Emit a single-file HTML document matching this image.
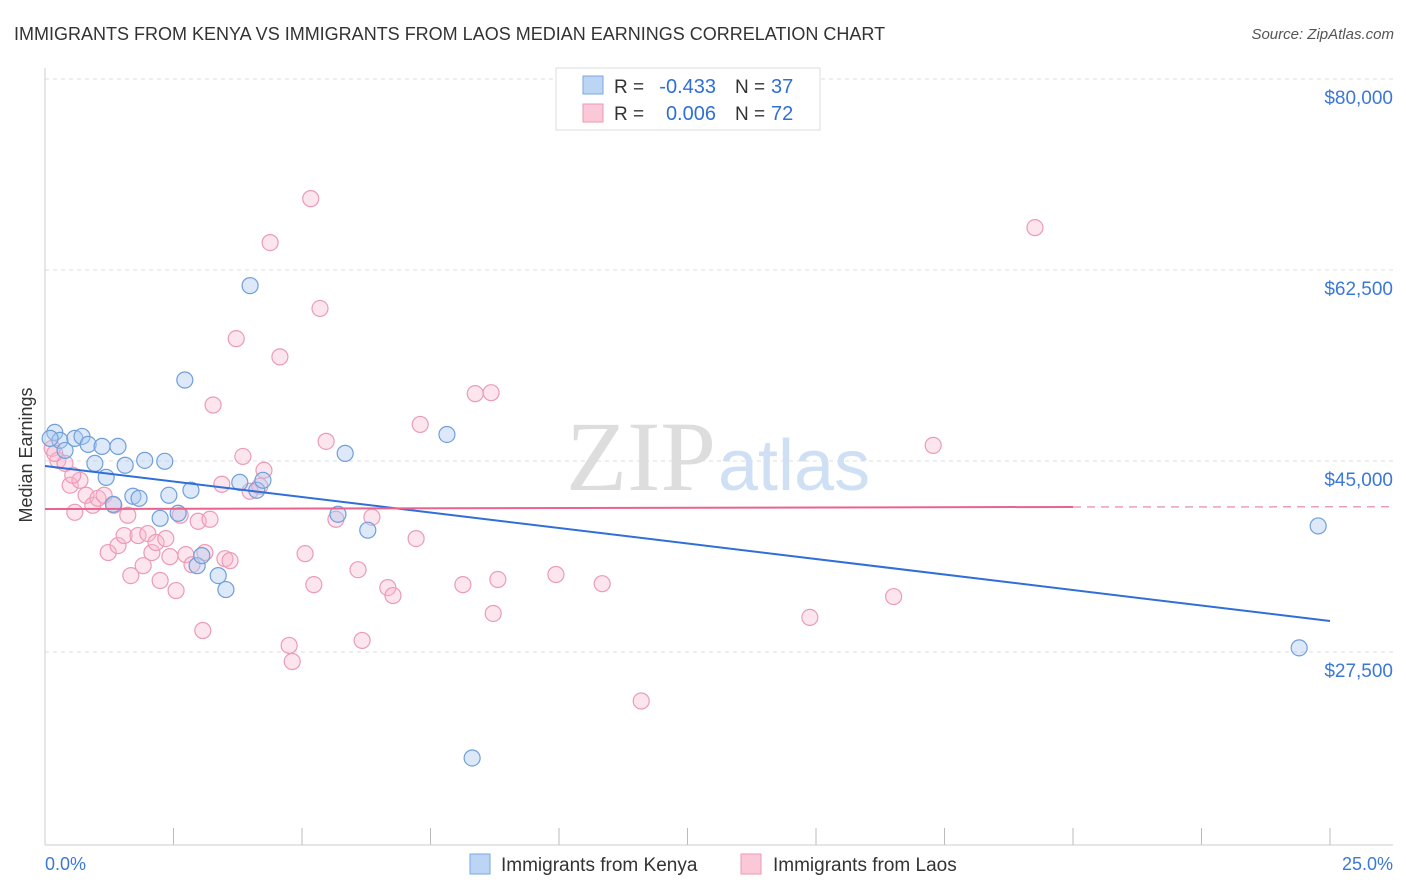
<!DOCTYPE html>
<html><head><meta charset="utf-8"><style>
body{margin:0;background:#fff;font-family:"Liberation Sans",sans-serif;}
</style></head><body>
<svg width="1406" height="892" xmlns="http://www.w3.org/2000/svg" style="display:block">
<text x="14" y="40" font-size="18" fill="#333">IMMIGRANTS FROM KENYA VS IMMIGRANTS FROM LAOS MEDIAN EARNINGS CORRELATION CHART</text>
<text x="1394" y="39" font-size="15" fill="#555" font-style="italic" text-anchor="end">Source: ZipAtlas.com</text>
<g id="grid"></g>
<line x1="45" y1="68" x2="45" y2="845" stroke="#ccc"/>
<line x1="45" y1="845" x2="1393" y2="845" stroke="#ccc"/>
<text x="32" y="455" font-size="18" fill="#333" text-anchor="middle" transform="rotate(-90 32 455)">Median Earnings</text>
<text x="716" y="490" font-size="100" fill="#ddd" text-anchor="end" font-family="Liberation Serif">ZIP</text>
<text x="718" y="490" font-size="72" fill="#cfe0f4">atlas</text>
<g id="marks"></g>
<g>
<rect x="556" y="68" width="264" height="62" fill="#fff" stroke="#ddd"/>
<rect x="583" y="76" width="20" height="18" fill="#bcd5f5" stroke="#7aa7e0"/>
<rect x="583" y="104" width="20" height="18" fill="#fbc8d8" stroke="#eb97b3"/>
<text x="614" y="93" font-size="19" fill="#333">R =</text>
<text x="716" y="93" font-size="20" fill="#2f6fd6" text-anchor="end">-0.433</text>
<text x="735" y="93" font-size="19" fill="#333">N =</text>
<text x="771" y="93" font-size="20" fill="#2f6fd6">37</text>
<text x="614" y="120" font-size="19" fill="#333">R =</text>
<text x="716" y="120" font-size="20" fill="#2f6fd6" text-anchor="end">0.006</text>
<text x="735" y="120" font-size="19" fill="#333">N =</text>
<text x="771" y="120" font-size="20" fill="#2f6fd6">72</text>
</g>
<text x="45" y="870" font-size="18" fill="#3b78d8">0.0%</text>
<text x="1393" y="870" font-size="18" fill="#3b78d8" text-anchor="end">25.0%</text>
<g>
<rect x="470" y="854" width="20" height="20" fill="#bcd5f5" stroke="#7aa7e0"/>
<text x="501" y="871" font-size="19" fill="#333">Immigrants from Kenya</text>
<rect x="741" y="854" width="20" height="20" fill="#fbc8d8" stroke="#eb97b3"/>
<text x="773" y="871" font-size="19" fill="#333">Immigrants from Laos</text>
</g>
</svg>
<script>
const yTicks=[80000,62500,45000,27500];
const yTickLabels=["$80,000","$62,500","$45,000","$27,500"];
const xTicks=[0,2.5,5,7.5,10,12.5,15,17.5,20,22.5,25];
const kenyaX=[0.19,0.29,0.39,0.58,0.72,0.84,0.97,1.11,1.19,1.33,1.42,1.56,1.71,1.83,1.94,2.24,2.33,2.41,2.59,2.72,2.84,2.96,3.05,3.37,3.52,3.79,3.99,4.12,4.24,5.70,5.84,6.28,7.82,8.31,24.40,24.77,0.10];
const kenyaY=[47620,46890,45970,47070,47250,46520,44780,46340,43500,41030,46340,44610,41770,41580,45060,39750,44970,41860,40210,52420,42320,35410,36330,34500,33220,43040,61070,42320,43230,40120,45700,38660,47430,17790,27880,39050,47070];
const laosX=[0.14,0.25,0.39,0.49,0.58,0.68,0.80,0.93,1.03,1.15,1.23,1.34,1.42,1.54,1.61,1.67,1.81,1.91,2.00,2.08,2.16,2.24,2.35,2.43,2.55,2.63,2.74,2.86,2.98,3.07,3.11,3.21,3.27,3.44,3.50,3.60,3.72,3.85,3.99,4.18,4.26,4.38,4.57,4.75,4.81,5.06,5.17,5.23,5.35,5.47,5.66,6.09,6.17,6.36,6.67,6.77,7.22,7.30,8.13,8.37,8.68,8.72,8.81,9.94,10.84,11.60,14.88,16.51,17.28,19.26,0.54,0.19];
const laosY=[46160,45060,44780,42780,40300,43230,41860,40940,41580,41860,36610,40940,37250,38170,40030,34500,38170,35410,38350,36610,37530,34050,37890,36240,33130,40030,36420,35500,39480,29470,36610,39660,50130,42870,36050,35870,56210,45420,42230,42690,44150,65010,54540,28100,26630,36510,69040,33670,58980,46800,39660,35040,28560,39850,33400,32670,37890,48350,33670,51170,51260,31030,34140,34600,33760,23010,30670,32580,46430,66380,43690,45700];
const trendX=[0,25], kenyaTrend=[44540,30340];
const laosTrendX=[0,20,25], laosTrend=[40600,40790,40810];
const NS="http://www.w3.org/2000/svg";
const xs=p=>45+p/25*1285, ys=v=>79+(80000-v)/17500*191;
const grid=document.getElementById('grid'), marks=document.getElementById('marks');
function mk(tag,attrs,parent){const e=document.createElementNS(NS,tag);for(const k in attrs)e.setAttribute(k,attrs[k]);parent.appendChild(e);return e;}
yTicks.forEach((v,i)=>{
 const l=mk('line',{x1:45,x2:1393,y1:ys(v),y2:ys(v),stroke:'#ddd','stroke-dasharray':'4,4'},grid);
 
 
 const t=mk('text',{x:1393,y:ys(v)+25,'font-size':19,fill:'#3b78d8','text-anchor':'end'},grid);
 t.textContent=yTickLabels[i];
 
 
});
xTicks.forEach(p=>{
 const l=mk('line',{x1:xs(p),x2:xs(p),y1:828,y2:845,stroke:'#bbb'},grid);
 
 
});
laosX.forEach((x,i)=>{
 const c=mk('circle',{cx:xs(x),cy:ys(laosY[i]),r:8,fill:'rgba(248,180,204,0.35)',stroke:'#eb9bb7','stroke-width':1.2},marks);
 
 
});
kenyaX.forEach((x,i)=>{
 const c=mk('circle',{cx:xs(x),cy:ys(kenyaY[i]),r:8,fill:'rgba(170,200,240,0.4)',stroke:'#6f9fdc','stroke-width':1.2},marks);
 
 
});
const kt=mk('line',{x1:xs(trendX[0]),y1:ys(kenyaTrend[0]),x2:xs(trendX[1]),y2:ys(kenyaTrend[1]),stroke:'#2f6fd6','stroke-width':2},marks);


const lt=mk('line',{x1:xs(laosTrendX[0]),y1:ys(laosTrend[0]),x2:xs(laosTrendX[1]),y2:ys(laosTrend[1]),stroke:'#e8638e','stroke-width':2},marks);


const ld=mk('line',{x1:xs(laosTrendX[1]),y1:ys(laosTrend[1]),x2:1393,y2:ys(laosTrend[2]),stroke:'#e8a0b8','stroke-width':1.5,'stroke-dasharray':'8,6'},marks);


</script>
</body></html>
